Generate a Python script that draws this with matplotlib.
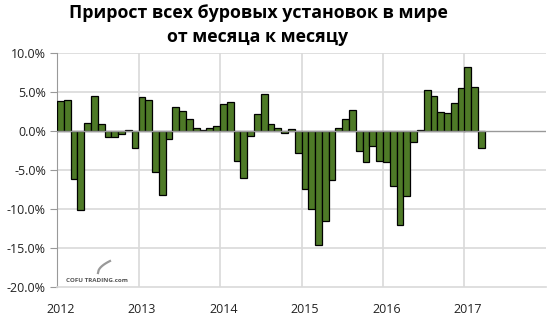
import matplotlib
matplotlib.use("Agg")
import matplotlib.pyplot as plt
import numpy as np

years = ["2012", "2013", "2014", "2015", "2016", "2017"]
values = [
    3.9, 4.0, -6.2, -10.1, 1.1, 4.5, 0.95, -0.8, -0.7, -0.4, 0.2, -2.2,
    4.4, 4.0, -5.3, -8.2, -1.0, 3.1, 2.6, 1.6, 0.4, 0.2, 0.4, 0.7,
    3.5, 3.8, -3.8, -6.0, -0.6, 2.2, 4.8, 0.9, 0.4, -0.2, 0.3, -2.8,
    -7.5, -10.0, -14.6, -11.5, -6.3, 0.4, 1.5, 2.7, -2.6, -4.0, -1.9, -3.9,
    -4.0, -7.0, -12.1, -8.4, -1.35, 0.2, 5.3, 4.5, 2.4, 2.3, 3.65, 5.6,
    8.3, 5.7, -2.2,
]
title = "Прирост всех буровых установок в мире\nот месяца к месяцу"

plt.rcParams['font.family'] = ['Open Sans', 'DejaVu Sans']

fig = plt.figure(figsize=(5.5, 3.2), dpi=100)
W, H = 550, 320
L, R, T, B = 57, 546, 53.3, 286.7
ax = fig.add_axes([L / W, 1 - B / H, (R - L) / W, (B - T) / H])

x = np.arange(len(values)) + 0.5
ax.bar(x, values, width=1.0, color="#4E7A27", edgecolor="black", linewidth=0.9, zorder=3)

ax.set_xlim(0, 72)
ax.set_ylim(-20, 10)
ax.set_yticks(np.arange(-20, 10.1, 5))
ax.set_yticklabels([f"{v:.1f}%" for v in np.arange(-20, 10.1, 5)], fontsize=9, color="#222222")
ax.set_xticks([12 * k + 0.5 for k in range(len(years))])
ax.set_xticklabels(years, fontsize=9, color="#222222")
ax.tick_params(axis="x", length=0, pad=12)
ax.tick_params(axis="y", length=5, color="#999999", width=0.8, pad=3)

for k in range(1, 6):
    ax.axvline(12 * k, color="#d9d9d9", linewidth=1.2, zorder=1)
for v in [-15, -10, -5, 5, 10]:
    ax.axhline(v, color="#d9d9d9", linewidth=1.2, zorder=1)
ax.axhline(0, color="#999999", linewidth=1.0, zorder=4)

for s in ["top", "right"]:
    ax.spines[s].set_visible(False)
ax.spines["left"].set_color("#999999")
ax.spines["bottom"].set_color("#d9d9d9")
ax.spines["bottom"].set_linewidth(1.2)

fig.text(258 / W, 1 - 4 / H, title, ha="center", va="top", fontsize=12.8, fontweight="bold",
         linespacing=1.45, color="black")

fig.text(66 / W, 1 - 280 / H, "COFU TRADING.com", ha="left", va="center", fontsize=4.5,
         fontweight="bold", color="#555555")
t = np.linspace(0, 1, 20)
fig.lines.append(plt.Line2D((98 + 12 * t) / W, 1 - (273 - 12 * np.sqrt(t)) / H,
                            transform=fig.transFigure, color="#999999", linewidth=1.6))

fig.savefig("out.png", dpi=100)
